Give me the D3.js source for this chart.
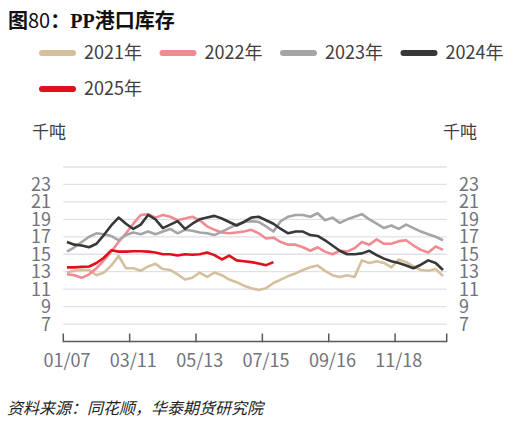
<!DOCTYPE html>
<html lang="zh">

<head>
    <meta charset="UTF-8" />
    <title>PP港口库存</title>
    <script src="https://cdn.jsdelivr.net/npm/d3@7"></script>
    <style>
        body { margin: 0; background: #fff; }
    </style>
</head>

<body>
</body>

<script>
    let w = 519;
    let h = 426;

    // weekly categories (x axis)
    const weeks = ["01/07", "01/14", "01/21", "01/28", "02/04", "02/11", "02/18", "02/25", "03/04",
        "03/11", "03/18", "03/25", "04/01", "04/08", "04/15", "04/22", "04/29", "05/06",
        "05/13", "05/20", "05/27", "06/03", "06/10", "06/17", "06/24", "07/01", "07/08",
        "07/15", "07/22", "07/29", "08/05", "08/12", "08/19", "08/26", "09/02", "09/09",
        "09/16", "09/23", "09/30", "10/07", "10/14", "10/21", "10/28", "11/04", "11/11",
        "11/18", "11/25", "12/02", "12/09", "12/16", "12/23", "12/30"];
    const xTickLabels = ["01/07", "03/11", "05/13", "07/15", "09/16", "11/18"];
    const yTicks = [7, 9, 11, 13, 15, 17, 19, 21, 23];

    // 千吨
    const y2021 = [12.9, 13.1, 13.2, 13.2, 12.6, 12.9, 13.7, 14.8, 13.4, 13.4, 13.1, 13.6, 13.9, 13.3, 13.2, 12.7,
        12.1, 12.3, 12.9, 12.4, 12.9, 12.6, 12.1, 11.8, 11.4, 11.1, 10.9, 11.1, 11.7, 12.1, 12.5, 12.8,
        13.2, 13.5, 13.7, 13.1, 12.6, 12.4, 12.6, 12.4, 14.3, 14.0, 14.2, 14.0, 13.5, 14.4, 14.1, 13.6,
        13.2, 13.1, 13.3, 12.5];
    const y2022 = [12.7, 12.6, 12.3, 12.7, 13.4, 14.3, 15.3, 16.4, 17.4, 18.5, 19.5, 19.6, 19.2, 19.5, 19.3, 18.9,
        19.1, 19.3, 18.9, 18.2, 17.8, 17.5, 17.4, 17.5, 17.6, 17.8, 17.4, 16.8, 16.9, 16.4, 16.1, 16.1,
        15.8, 15.4, 15.8, 15.3, 15.0, 15.4, 15.3, 15.7, 16.4, 16.1, 16.7, 16.2, 16.2, 16.5, 16.6, 16.0,
        15.5, 15.2, 15.9, 15.5];
    const y2023 = [15.3, 15.8, 16.4, 17.0, 17.4, 17.3, 17.1, 16.6, 17.2, 17.5, 17.3, 17.6, 17.3, 17.6, 17.9, 17.4,
        17.8, 17.7, 17.5, 17.4, 17.2, 17.6, 18.0, 18.4, 18.7, 18.8, 18.7, 18.2, 17.6, 18.8, 19.3, 19.5,
        19.5, 19.3, 19.7, 18.9, 19.2, 18.6, 19.0, 19.3, 19.6, 19.0, 18.5, 18.0, 18.3, 17.9, 18.4, 18.0,
        17.6, 17.3, 17.0, 16.6];
    const y2024 = [16.4, 16.1, 16.0, 15.8, 16.2, 17.2, 18.3, 19.2, 18.5, 17.9, 18.4, 19.5, 19.0, 18.0, 18.4, 18.8,
        17.9, 18.5, 19.0, 19.2, 19.4, 19.1, 18.7, 18.3, 18.7, 19.2, 19.3, 18.9, 18.5, 17.9, 17.4, 17.6,
        17.6, 17.2, 17.1, 16.6, 16.0, 15.4, 15.0, 15.0, 15.1, 15.4, 14.9, 14.5, 14.2, 14.0, 13.7, 13.4,
        13.8, 14.3, 14.0, 13.2];
    const y2025 = [13.5, 13.5, 13.55, 13.6, 14.0, 14.6, 15.45, 15.3, 15.3, 15.35, 15.35, 15.3, 15.2, 15.0, 15.0, 14.85,
        15.0, 14.95, 15.0, 15.2, 14.9, 14.4, 14.85, 14.3, 14.2, 14.1, 13.95, 13.75, 14.1];

    const seriesNames = ["2021年", "2022年", "2023年", "2024年", "2025年"];
    const seriesValues = [y2021, y2022, y2023, y2024, y2025];
    const seriesColors = ["#d5c09e", "#f28b91", "#a5a5a7", "#383838", "#e0101d"];

    let svg = d3.select("body").append("svg")
        .attr("width", w)
        .attr("height", h)
        .style("font-family", "'Noto Sans CJK SC', 'Noto Sans', sans-serif");

    // title
    let title = svg.append("text")
        .attr("x", 8)
        .attr("y", 28)
        .attr("font-size", 20)
        .attr("font-weight", "bold")
        .attr("fill", "#111");
    title.append("tspan").text("图");
    title.append("tspan").attr("font-weight", "normal").text("80");
    title.append("tspan").text("：");
    title.append("tspan").attr("font-family", "'Liberation Serif', serif").text("PP");
    title.append("tspan").text("港口库存");

    // legend
    let legend = svg.append("g");
    seriesNames.forEach(function (name, i) {
        let lx = 39 + (i % 4) * 120.5;
        let ly = 53 + Math.floor(i / 4) * 36;
        legend.append("line")
            .attr("x1", lx + 3).attr("x2", lx + 34)
            .attr("y1", ly).attr("y2", ly)
            .attr("stroke", seriesColors[i])
            .attr("stroke-width", 6)
            .attr("stroke-linecap", "round");
        legend.append("text")
            .attr("x", lx + 45)
            .attr("y", ly)
            .attr("dy", "0.36em")
            .attr("font-size", 18)
            .attr("fill", "#404040")
            .text(name);
    });

    // units
    svg.append("text").attr("x", 32).attr("y", 138).attr("font-size", 17).attr("fill", "#404040").text("千吨");
    svg.append("text").attr("x", 443).attr("y", 138).attr("font-size", 17).attr("fill", "#404040").text("千吨");

    let x = d3.scaleBand()
        .domain(d3.range(weeks.length))
        .range([63.3, 446.7]);

    let y = d3.scaleLinear()
        .domain([5, 25])
        .range([341.5, 167]);

    // grid
    svg.append("g").selectAll("line")
        .data(d3.range(7, 26, 2))
        .enter().append("line")
        .attr("x1", x.range()[0]).attr("x2", x.range()[1])
        .attr("y1", function (d) { return y(d); })
        .attr("y2", function (d) { return y(d); })
        .attr("stroke", "#dde1ea")
        .attr("stroke-width", 1.3);

    // y labels both sides
    const yLabelStyle = function (sel) {
        sel.attr("font-size", 18).attr("fill", "#72727c").attr("dy", "0.36em");
    };
    svg.append("g").selectAll("text")
        .data(yTicks)
        .enter().append("text")
        .attr("x", 51)
        .attr("y", function (d) { return y(d); })
        .attr("text-anchor", "end")
        .text(function (d) { return d; })
        .call(yLabelStyle);
    svg.append("g").selectAll("text")
        .data(yTicks)
        .enter().append("text")
        .attr("x", 459)
        .attr("y", function (d) { return y(d); })
        .attr("text-anchor", "start")
        .text(function (d) { return d; })
        .call(yLabelStyle);

    // x axis
    let xAxis = svg.append("g").attr("transform", "translate(0," + y(5) + ")");
    xAxis.append("line")
        .attr("x1", x.range()[0]).attr("x2", x.range()[1])
        .attr("stroke", "#595959").attr("stroke-width", 1.5);
    let tickIdx = d3.range(0, weeks.length, 9).concat([weeks.length]);
    xAxis.selectAll(".tick")
        .data(tickIdx)
        .enter().append("line")
        .attr("class", "tick")
        .attr("x1", function (d) { return d < weeks.length ? x(d) : x.range()[1]; })
        .attr("x2", function (d) { return d < weeks.length ? x(d) : x.range()[1]; })
        .attr("y1", 0.7).attr("y2", -8)
        .attr("stroke", "#595959").attr("stroke-width", 1.5);
    xAxis.selectAll(".lbl")
        .data(xTickLabels)
        .enter().append("text")
        .attr("class", "lbl")
        .attr("x", function (d) { return x(weeks.indexOf(d)) + x.bandwidth() / 2; })
        .attr("y", 25)
        .attr("text-anchor", "middle")
        .attr("font-size", 18)
        .attr("fill", "#72727c")
        .text(function (d) { return d; });

    // series lines
    let line = d3.line()
        .x(function (d, i) { return x(i) + x.bandwidth() / 2; })
        .y(function (d) { return y(d); });

    svg.append("g").selectAll("path")
        .data(seriesValues)
        .enter().append("path")
        .attr("d", line)
        .attr("fill", "none")
        .attr("stroke", function (d, i) { return seriesColors[i]; })
        .attr("stroke-width", 2.6)
        .attr("stroke-linejoin", "round");

    // source
    svg.append("text")
        .attr("x", 7)
        .attr("y", 414)
        .attr("font-size", 16)
        .attr("font-style", "italic")
        .attr("fill", "#222")
        .text("资料来源：同花顺，华泰期货研究院");
</script>

</html>
